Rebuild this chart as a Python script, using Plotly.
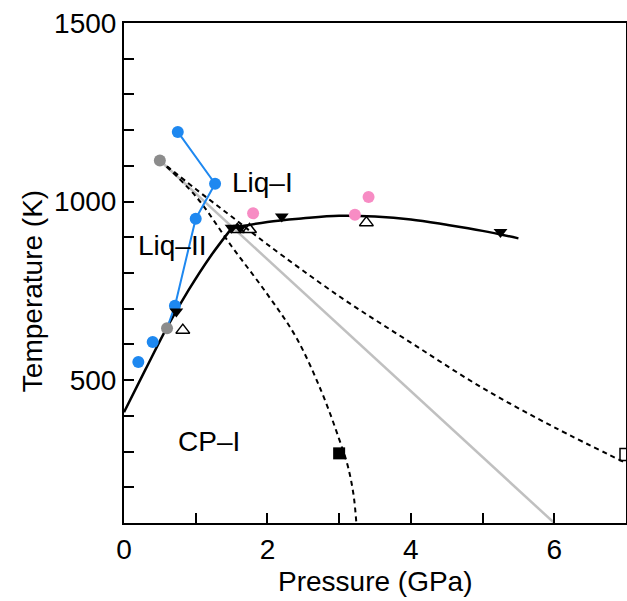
import plotly.graph_objects as go

# --- data ---
blue_line_P = [0.75, 1.27, 1.00, 0.71, 0.60]
blue_line_T = [1195, 1050, 952, 708, 645]
blue_pts_P = [0.75, 1.27, 1.00, 0.71, 0.40, 0.20]
blue_pts_T = [1195, 1050, 952, 708, 607, 551]

gray_pts_P = [0.50, 0.60]
gray_pts_T = [1115, 645]

pink_P = [1.80, 3.22, 3.41]
pink_T = [967, 963, 1013]

melt2_P = [0.0, 0.3, 0.6, 0.9, 1.2, 1.5]
melt2_T = [410, 530, 648, 752, 845, 925]

melt1_P = [1.5, 2.0, 2.5, 3.0, 3.5, 4.0, 4.5, 5.0, 5.5]
melt1_T = [925, 943, 953, 960, 958, 950, 935, 918, 897]

dash_steep_P = [0.5, 1.0, 1.5, 2.0, 2.4, 2.75, 3.0, 3.12, 3.2, 3.24]
dash_steep_T = [1115, 1015, 875, 740, 620, 470, 335, 260, 180, 100]

dash_shallow_P = [0.5, 1.0, 1.5, 2.0, 3.0, 4.0, 5.0, 6.0, 7.0]
dash_shallow_T = [1115, 1035, 958, 880, 735, 605, 478, 368, 268]

gray_line_P = [0.5, 6.0]
gray_line_T = [1115, 100]

tri_down_P = [0.73, 1.50, 1.62, 2.20, 5.25]
tri_down_T = [692, 927, 927, 958, 915]

tri_up_P = [0.82, 1.58, 1.75, 3.38]
tri_up_T = [640, 922, 922, 941]

sq_fill_P = [3.0]
sq_fill_T = [295]
sq_open_P = [7.0]
sq_open_T = [292]

x_ticks = [0, 1, 2, 3, 4, 5, 6, 7]
x_labels = ["0", "", "2", "", "4", "", "6", ""]
y_ticks = list(range(100, 1600, 100))
y_labels = ["500" if v == 500 else "1000" if v == 1000 else "1500" if v == 1500 else "" for v in y_ticks]

FONT = "Liberation Sans, Arial, sans-serif"
FS = 28

fig = go.Figure()

fig.add_trace(go.Scatter(x=gray_line_P, y=gray_line_T, mode="lines",
                         line=dict(color="#c0c0c0", width=2.5)))
fig.add_trace(go.Scatter(x=dash_steep_P, y=dash_steep_T, mode="lines",
                         line=dict(color="black", width=2, dash="5px,4px", shape="spline")))
fig.add_trace(go.Scatter(x=dash_shallow_P, y=dash_shallow_T, mode="lines",
                         line=dict(color="black", width=2, dash="5px,4px", shape="spline")))
fig.add_trace(go.Scatter(x=melt2_P, y=melt2_T, mode="lines",
                         line=dict(color="black", width=2.5, shape="spline")))
fig.add_trace(go.Scatter(x=melt1_P, y=melt1_T, mode="lines",
                         line=dict(color="black", width=2.5, shape="spline")))
fig.add_trace(go.Scatter(x=blue_line_P, y=blue_line_T, mode="lines",
                         line=dict(color="#1e88f0", width=2)))
fig.add_trace(go.Scatter(x=blue_pts_P, y=blue_pts_T, mode="markers",
                         marker=dict(color="#1e88f0", size=12)))
fig.add_trace(go.Scatter(x=gray_pts_P, y=gray_pts_T, mode="markers",
                         marker=dict(color="#8c8c8c", size=12)))
fig.add_trace(go.Scatter(x=pink_P, y=pink_T, mode="markers",
                         marker=dict(color="#f78cc4", size=12)))
fig.add_trace(go.Scatter(x=tri_down_P, y=tri_down_T, mode="markers",
                         marker=dict(symbol="triangle-down", color="black", size=12)))
fig.add_trace(go.Scatter(x=tri_up_P, y=tri_up_T, mode="markers",
                         marker=dict(symbol="triangle-up-open", color="black", size=12,
                                     line=dict(width=1.5))))
fig.add_trace(go.Scatter(x=sq_fill_P, y=sq_fill_T, mode="markers",
                         marker=dict(symbol="square", color="black", size=12)))
fig.add_trace(go.Scatter(x=sq_open_P, y=sq_open_T, mode="markers",
                         marker=dict(symbol="square-open", color="black", size=12,
                                     line=dict(width=1.5))))

for txt, px, ty in [("Liq–I", 1.93, 1054), ("Liq–II", 0.68, 878), ("CP–I", 1.19, 329)]:
    fig.add_annotation(x=px, y=ty, text=txt, showarrow=False,
                       font=dict(family=FONT, size=FS, color="black"))

# axis titles as paper annotations for exact placement
fig.add_annotation(xref="paper", yref="paper", x=0.5, y=-0.118, yanchor="middle",
                   text="Pressure (GPa)", showarrow=False,
                   font=dict(family=FONT, size=FS, color="black"))
fig.add_annotation(xref="paper", yref="paper", x=-0.183, y=0.464, xanchor="center",
                   yanchor="middle", textangle=-90,
                   text="Temperature (K)", showarrow=False,
                   font=dict(family=FONT, size=FS, color="black"))

fig.update_layout(
    width=627, height=601,
    margin=dict(l=124, r=1, t=23, b=78),
    paper_bgcolor="white", plot_bgcolor="white",
    showlegend=False,
    font=dict(family=FONT, size=FS, color="black"),
)
fig.update_xaxes(range=[0, 7], tickvals=x_ticks, ticktext=x_labels,
                 ticks="inside", ticklen=10, tickwidth=1.5, tickcolor="black",
                 showline=True, linecolor="black", linewidth=2, mirror=True,
                 showgrid=False, zeroline=False, automargin=False,
                 ticklabeloverflow="allow", tickfont=dict(size=FS))
fig.update_yaxes(range=[100, 1500], tickvals=y_ticks, ticktext=y_labels,
                 ticks="inside", ticklen=10, tickwidth=1.5, tickcolor="black",
                 showline=True, linecolor="black", linewidth=2, mirror=True,
                 showgrid=False, zeroline=False, automargin=False,
                 ticklabeloverflow="allow", tickfont=dict(size=FS))

# remove the default 8px page margin so the figure fills the window exactly
fig.write_html("out.html",
               config={"displayModeBar": False},
               post_script="document.body.style.margin='0';document.body.style.overflow='hidden';")
